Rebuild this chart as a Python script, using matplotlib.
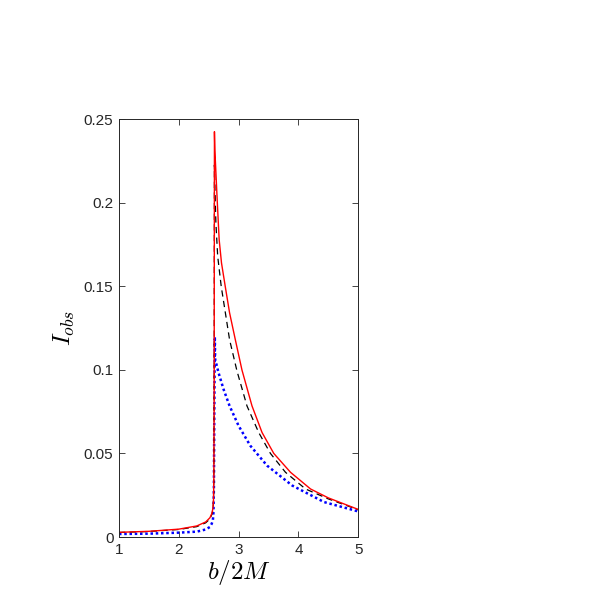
import numpy as np
import matplotlib
matplotlib.use('Agg')
import matplotlib.pyplot as plt

plt.rcParams['font.family'] = ['Liberation Sans', 'DejaVu Sans']
plt.rcParams['mathtext.fontset'] = 'cm'

# red solid curve
b_red = [1.0, 1.5, 2.0, 2.3, 2.45, 2.52, 2.552, 2.57, 2.58, 2.586, 2.591, 2.596,
         2.603, 2.642, 2.675, 2.714, 2.776, 2.849, 2.944, 3.056, 3.224,
         3.392, 3.588, 3.868, 4.204, 4.5, 5.0]
I_red = [0.0028, 0.0034, 0.0047, 0.0066, 0.0090, 0.0115, 0.0140, 0.017, 0.022, 0.035, 0.08, 0.2424,
         0.2314, 0.2015, 0.1778, 0.1639, 0.150, 0.1341, 0.1182, 0.0999, 0.0784,
         0.0625, 0.050, 0.0387, 0.0287, 0.0234, 0.0165]

# black dashed curve
b_blk = [1.0, 1.5, 2.0, 2.3, 2.45, 2.52, 2.552, 2.57, 2.58, 2.586, 2.591, 2.596,
         2.606, 2.620, 2.650, 2.709, 2.849, 2.972, 3.14, 3.336, 3.532, 3.784, 4.12, 4.5, 5.0]
I_blk = [0.0027, 0.0033, 0.0045, 0.0062, 0.0085, 0.0108, 0.0135, 0.016, 0.021, 0.035, 0.08, 0.2225,
         0.2060, 0.1880, 0.168, 0.150, 0.118, 0.0994, 0.0784, 0.0625, 0.050, 0.0387, 0.0287, 0.0228, 0.0163]

# blue dotted curve
b_blu = [1.0, 1.5, 2.0, 2.3, 2.45, 2.52, 2.55, 2.57, 2.58, 2.587, 2.593, 2.602,
         2.608, 2.664, 2.748, 2.849, 3.0, 3.196, 3.476, 3.896, 4.429, 5.0]
I_blu = [0.0018, 0.0020, 0.0026, 0.0032, 0.0045, 0.0060, 0.0079, 0.010, 0.015, 0.03, 0.07, 0.1198,
         0.1063, 0.0983, 0.0884, 0.0784, 0.0665, 0.0546, 0.0427, 0.0308, 0.0209, 0.0153]

xticks = [1, 2, 3, 4, 5]
yticks = [0, 0.05, 0.1, 0.15, 0.2, 0.25]
ytick_labels = ['0', '0.05', '0.1', '0.15', '0.2', '0.25']

fig = plt.figure(figsize=(5.98, 5.98), dpi=100)
ax = fig.add_axes([0.199, 0.102, 0.40, 0.699])

ax.plot(b_blu, I_blu, color='blue', lw=1.8, ls=(0, (1, 1.1)))
ax.plot(b_blk, I_blk, color='black', lw=0.9, ls=(0, (5, 3.5)))
ax.plot(b_red, I_red, color='red', lw=1.0)

ax.set_xlim(1, 5)
ax.set_ylim(0, 0.25)
ax.set_xticks(xticks)
ax.set_yticks(yticks)
ax.set_yticklabels(ytick_labels)
ax.tick_params(direction='in', top=True, right=True, length=4, width=0.6,
               labelsize=11, colors='#262626', pad=4)
for s in ax.spines.values():
    s.set_color('#262626'); s.set_linewidth(0.7)

ax.set_xlabel(r'$b/2M$', fontsize=18, labelpad=1)
ax.set_ylabel(r'$I_{obs}$', fontsize=18, labelpad=5)

fig.savefig('out.png', dpi=100)
